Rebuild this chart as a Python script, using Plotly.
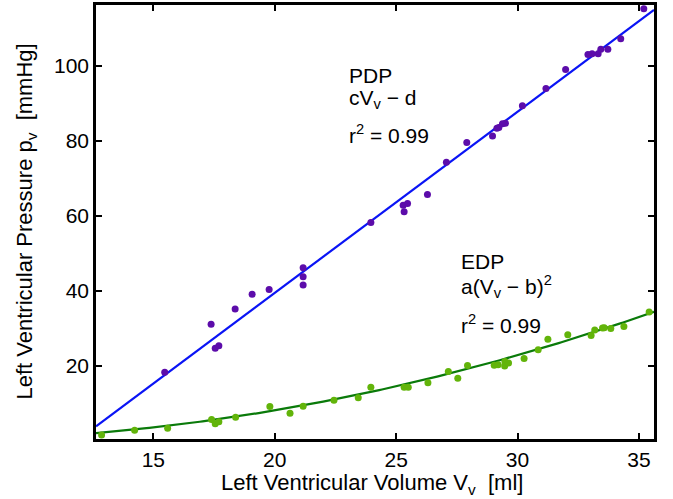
import plotly.graph_objects as go

# PDP data (purple)
pdp_v = [35.2, 34.25, 33.72, 33.43, 33.32, 33.07, 32.9, 31.98, 31.17, 30.20, 29.5, 29.38,
         29.23, 29.15, 28.97, 27.91, 27.07, 26.29, 25.47, 25.29, 25.33, 23.96, 21.17, 21.17,
         21.17, 19.77, 19.07, 18.37, 17.38, 17.70, 17.55, 15.47]
pdp_p = [115.3, 107.3, 104.5, 104.5, 103.3, 103.3, 103.1, 99.1, 94.0, 89.4, 84.7, 84.6,
         83.6, 83.4, 81.3, 79.6, 74.3, 65.7, 63.3, 62.8, 61.1, 58.2, 46.1, 43.7,
         41.5, 40.3, 39.05, 35.1, 31.0, 25.3, 24.6, 18.2]

# EDP data (green)
edp_v = [12.87, 14.23, 15.59, 17.40, 17.55, 17.70, 18.39, 19.80, 20.63, 21.17, 22.44, 23.44,
         23.96, 25.33, 25.5, 26.31, 27.15, 27.54, 27.94, 29.04, 29.2, 29.48, 29.47, 29.63,
         30.27, 30.85, 31.25, 32.07, 33.03, 33.18, 33.5, 33.57, 33.84, 34.38, 35.42]
edp_p = [1.44, 2.69, 3.22, 5.6, 4.44, 4.97, 6.21, 9.05, 7.27, 9.13, 10.7, 11.4,
         14.17, 14.17, 14.2, 15.4, 18.4, 16.6, 20.0, 20.1, 20.2, 21.1, 19.9, 20.7,
         21.9, 24.2, 27.0, 28.2, 28.0, 29.5, 30.0, 30.1, 29.9, 30.4, 34.3]

# Fit parameters
c_fit, d_fit = 4.84, 57.4
a_fit, b_fit = 0.0376, 5.4

x_range = [12.64, 35.62]
y_range = [0.38, 116.3]
x_ticks = [15, 20, 25, 30, 35]
y_ticks = [20, 40, 60, 80, 100]

x_title = "Left Ventricular Volume V<sub>v</sub>\u00a0\u00a0[ml]"
y_title = "Left Ventricular Pressure p<sub>v</sub>\u00a0\u00a0[mmHg]"

n = 200
fit_v = [x_range[0] + (x_range[1] - x_range[0]) * i / (n - 1) for i in range(n)]
fit_pdp = [c_fit * v - d_fit for v in fit_v]
fit_edp = [a_fit * (v - b_fit) ** 2 for v in fit_v]

FONT = "Liberation Sans, Arial, Helvetica, sans-serif"
FS = 21
FS_TITLE = 22

fig = go.Figure()
fig.add_trace(go.Scatter(x=fit_v, y=fit_pdp, mode="lines",
                         line=dict(color="#0a14f5", width=2.2), hoverinfo="skip"))
fig.add_trace(go.Scatter(x=fit_v, y=fit_edp, mode="lines",
                         line=dict(color="#0a7a0a", width=2.2), hoverinfo="skip"))
fig.add_trace(go.Scatter(x=pdp_v, y=pdp_p, mode="markers",
                         marker=dict(color="#5c0caa", size=7)))
fig.add_trace(go.Scatter(x=edp_v, y=edp_p, mode="markers",
                         marker=dict(color="#62b40a", size=7)))

def px2paper_x(px):
    return (px - 96) / 558

def px2paper_y(py):
    return (439 - py) / 437

ann = [
    ("PDP", 347, 73),
    ("cV<sub>v</sub> \u2212 d", 347, 97),
    ("r<sup>2</sup> = 0.99", 347, 132),
    ("EDP", 459, 260),
    ("a(V<sub>v</sub> \u2212 b)<sup>2</sup>", 459, 285),
    ("r<sup>2</sup> = 0.99", 459, 323),
]
annotations = [dict(text=t, x=px2paper_x(x), y=px2paper_y(y), xref="paper", yref="paper",
                    xanchor="left", yanchor="middle", showarrow=False,
                    font=dict(family=FONT, size=FS, color="black"))
               for t, x, y in ann]
annotations.append(dict(text=x_title, x=px2paper_x(372), y=px2paper_y(484),
                        xref="paper", yref="paper", xanchor="center", yanchor="middle",
                        showarrow=False, font=dict(family=FONT, size=FS_TITLE, color="black")))
annotations.append(dict(text=y_title, x=px2paper_x(26), y=px2paper_y(220), textangle=-90,
                        xref="paper", yref="paper", xanchor="center", yanchor="middle",
                        showarrow=False, font=dict(family=FONT, size=FS_TITLE, color="black")))

axis_common = dict(showline=True, linecolor="black", linewidth=2.5, mirror="ticks",
                   ticks="inside", ticklen=6, tickwidth=1.5, tickcolor="black",
                   showgrid=False, zeroline=False,
                   tickfont=dict(family=FONT, size=FS, color="black"))

fig.update_layout(
    width=673, height=499,
    margin=dict(l=96, r=19, t=2, b=60),
    paper_bgcolor="white", plot_bgcolor="white",
    showlegend=False,
    font=dict(family=FONT, size=FS, color="black"),
    xaxis=dict(range=x_range, tickvals=x_ticks, **axis_common),
    yaxis=dict(range=y_range, tickvals=y_ticks, **axis_common),
    annotations=annotations,
)

fig.write_html("out.html")
